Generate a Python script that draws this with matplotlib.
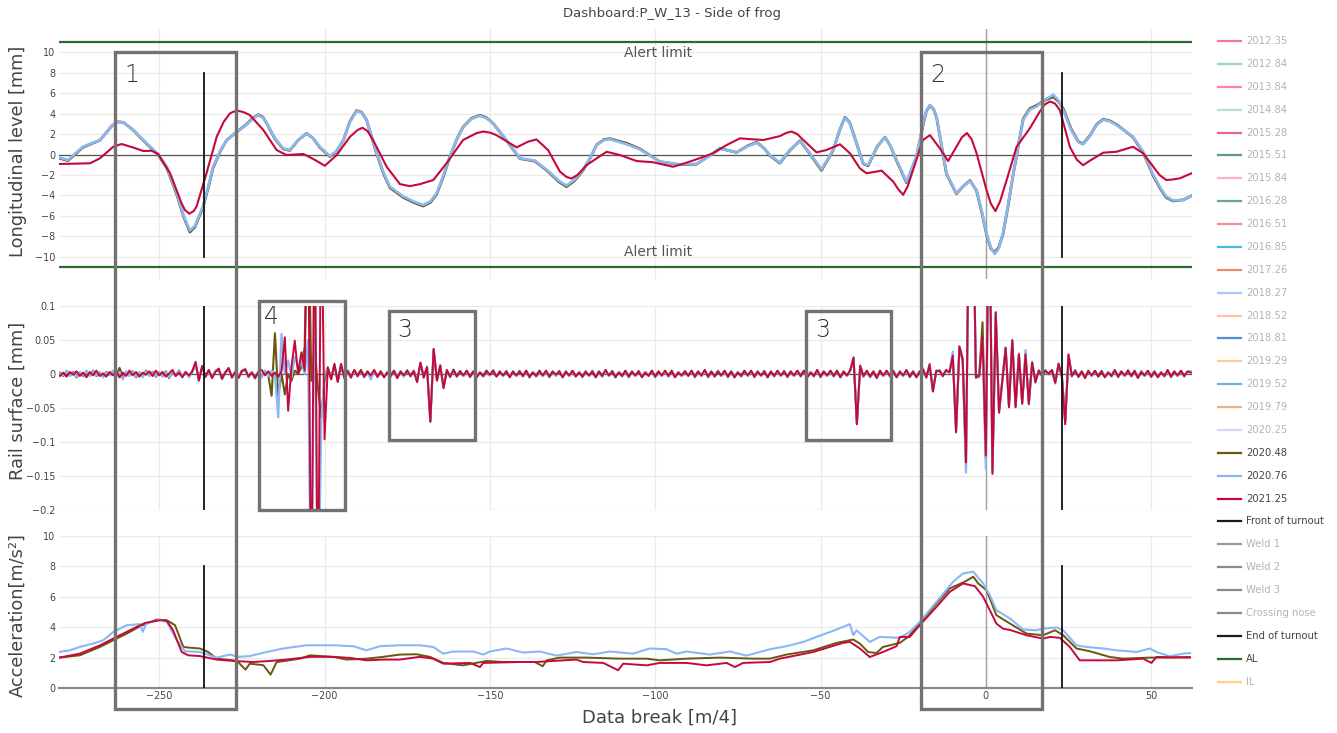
import matplotlib
matplotlib.use("Agg")
import matplotlib.pyplot as plt
from matplotlib.lines import Line2D
from matplotlib.patches import Rectangle
from matplotlib.ticker import FuncFormatter
import numpy as np

W, H = 1337, 733

# ---------------- legend entries ----------------
legend_labels = ["2012.35", "2012.84", "2013.84", "2014.84", "2015.28", "2015.51",
                 "2015.84", "2016.28", "2016.51", "2016.85", "2017.26", "2018.27",
                 "2018.52", "2018.81", "2019.29", "2019.52", "2019.79", "2020.25",
                 "2020.48", "2020.76", "2021.25", "Front of turnout", "Weld 1",
                 "Weld 2", "Weld 3", "Crossing nose", "End of turnout", "AL", "IL"]
legend_colors = ["#ee77b0", "#9ad8b4", "#f887a8", "#b8e0c4", "#e9609e", "#5f9e79",
                 "#ffb0cc", "#6aa88a", "#f49090", "#4db4ee", "#ea8b6c", "#a8c8ff",
                 "#ffc4a0", "#4d8ed4", "#ffcc99", "#6cb4dc", "#e8b488", "#dcd4fa",
                 "#6b560f", "#8ab8f5", "#c5093b", "#1a1a1a", "#9a9a9a",
                 "#8a8a8a", "#8a8a8a", "#8a8a8a", "#1a1a1a", "#2d6a2d", "#ffd08a"]
legend_shown = [False] * 18 + [True, True, True, True, False, False, False, False,
                               True, True, False]

OLIVE, BLUE, RED = "#6b560f", "#8ab8f5", "#c5093b"

# ---------------- longitudinal level (mm) ----------------
lvl_blue = [(-280.3, -0.3), (-277.6, -0.54), (-273.1, 0.76), (-267.9, 1.4), (-264.2, 2.85),
            (-262.5, 3.2), (-260.8, 3.15), (-257.9, 2.4), (-253.8, 1.1), (-250.4, 0.05),
            (-247.7, -1.2), (-244.7, -3.8), (-242.6, -6.0), (-240.7, -7.45), (-239.2, -7.0),
            (-236.8, -5.1), (-235.2, -3.2), (-233.7, -1.2), (-231.5, 0.4), (-229.6, 1.4),
            (-226.6, 2.2), (-223.6, 2.9), (-221.8, 3.5), (-220.0, 3.85), (-218.6, 3.6),
            (-217.5, 3.05), (-215.0, 1.6), (-212.5, 0.6), (-210.5, 0.44), (-208.0, 1.4),
            (-205.4, 2.07), (-203.5, 1.6), (-201.4, 0.76), (-198.4, -0.15), (-196.5, 0.3),
            (-194.3, 1.4), (-192.3, 3.2), (-190.3, 4.26), (-188.8, 4.1), (-187.3, 3.4),
            (-184.2, 0.1), (-182.0, -1.9), (-180.2, -3.15), (-176.2, -4.1), (-173.0, -4.6),
            (-170.2, -4.95), (-168.0, -4.6), (-166.1, -3.8), (-164.0, -2.0), (-162.1, -0.2),
            (-160.0, 1.5), (-158.1, 2.7), (-155.5, 3.5), (-153.0, 3.8), (-151.0, 3.55),
            (-149.0, 3.05), (-144.9, 1.4), (-140.9, -0.37), (-136.4, -0.6), (-132.8, -1.5),
            (-129.0, -2.6), (-126.8, -3.05), (-124.5, -2.5), (-121.8, -1.5), (-119.5, -0.2),
            (-117.7, 0.93), (-115.5, 1.4), (-113.7, 1.5), (-108.6, 1.0), (-104.6, 0.5),
            (-98.6, -0.7), (-92.5, -0.96), (-87.5, -0.93), (-83.5, -0.15), (-80.4, 0.57),
            (-75.4, 0.21), (-72.0, 0.8), (-69.3, 1.16), (-67.0, 0.6), (-65.3, -0.05),
            (-62.3, -0.8), (-59.3, 0.44), (-56.2, 1.32), (-53.2, 0.1), (-49.7, -1.45),
            (-46.2, 0.44), (-44.2, 2.4), (-42.6, 3.6), (-41.2, 3.1), (-40.1, 2.07),
            (-37.1, -0.86), (-35.6, -1.03), (-32.8, 0.8), (-30.5, 1.68), (-28.8, 0.8),
            (-27.0, -0.54), (-24.0, -2.66), (-21.0, -0.2), (-19.0, 2.9), (-18.0, 4.3),
            (-16.9, 4.85), (-15.8, 4.5), (-14.9, 3.7), (-11.9, -1.84), (-8.9, -3.8),
            (-6.8, -3.1), (-4.8, -2.6), (-2.8, -3.5), (-1.2, -5.6), (0.2, -7.7),
            (1.5, -9.1), (2.7, -9.75), (3.9, -9.2), (5.2, -7.7), (6.8, -4.8),
            (8.3, -1.84), (11.3, 3.4), (13.3, 4.4), (15.3, 4.7), (18.0, 5.4),
            (20.4, 5.85), (22.0, 5.3), (23.4, 4.35), (25.8, 2.4), (28.0, 1.2),
            (29.4, 1.0), (31.5, 1.8), (33.5, 2.9), (35.5, 3.4), (37.5, 3.25),
            (39.5, 2.9), (44.5, 1.74), (47.6, 0.27), (50.5, -1.9), (52.6, -3.15),
            (54.5, -4.1), (56.6, -4.5), (59.7, -4.45), (62.2, -4.06)]
lvl_olive = [(-280.3, -0.35), (-277.6, -0.6), (-273.1, 0.7), (-267.9, 1.4), (-264.2, 2.85),
             (-262.5, 3.2), (-260.8, 3.15), (-257.9, 2.4), (-253.8, 1.05), (-250.4, 0.0),
             (-247.7, -1.3), (-244.7, -3.9), (-242.6, -6.1), (-240.7, -7.6), (-239.2, -7.1),
             (-236.8, -5.2), (-235.2, -3.3), (-233.7, -1.3), (-231.5, 0.35), (-229.6, 1.4),
             (-226.6, 2.2), (-223.6, 2.95), (-221.8, 3.55), (-220.0, 3.9), (-218.6, 3.65),
             (-217.5, 3.05), (-215.0, 1.55), (-212.5, 0.55), (-210.5, 0.4), (-208.0, 1.4),
             (-205.4, 2.07), (-203.5, 1.6), (-201.4, 0.7), (-198.4, -0.2), (-196.5, 0.25),
             (-194.3, 1.4), (-192.3, 3.25), (-190.3, 4.3), (-188.8, 4.15), (-187.3, 3.4),
             (-184.2, 0.05), (-182.0, -2.0), (-180.2, -3.25), (-176.2, -4.2), (-173.0, -4.7),
             (-170.2, -5.05), (-168.0, -4.7), (-166.1, -3.9), (-164.0, -2.1), (-162.1, -0.25),
             (-160.0, 1.5), (-158.1, 2.7), (-155.5, 3.55), (-153.0, 3.85), (-151.0, 3.6),
             (-149.0, 3.05), (-144.9, 1.35), (-140.9, -0.4), (-136.4, -0.65), (-132.8, -1.55),
             (-129.0, -2.7), (-126.8, -3.15), (-124.5, -2.6), (-121.8, -1.55), (-119.5, -0.25),
             (-117.7, 0.95), (-115.5, 1.45), (-113.7, 1.55), (-108.6, 1.1), (-104.6, 0.55),
             (-98.6, -0.7), (-92.5, -1.0), (-87.5, -0.95), (-83.5, -0.1), (-80.4, 0.6),
             (-75.4, 0.2), (-72.0, 0.85), (-69.3, 1.2), (-67.0, 0.6), (-65.3, -0.1),
             (-62.3, -0.85), (-59.3, 0.4), (-56.2, 1.35), (-53.2, 0.05), (-49.7, -1.55),
             (-46.2, 0.4), (-44.2, 2.4), (-42.6, 3.65), (-41.2, 3.15), (-40.1, 2.1),
             (-37.1, -0.9), (-35.6, -1.1), (-32.8, 0.8), (-30.5, 1.7), (-28.8, 0.8),
             (-27.0, -0.6), (-24.0, -2.75), (-21.0, -0.25), (-19.0, 2.85), (-18.0, 4.25),
             (-16.9, 4.8), (-15.8, 4.45), (-14.9, 3.65), (-11.9, -1.9), (-8.9, -3.85),
             (-6.8, -3.1), (-4.8, -2.55), (-2.8, -3.55), (-1.2, -5.7), (0.2, -7.8),
             (1.5, -9.2), (2.7, -9.6), (3.9, -9.1), (5.2, -7.8), (6.8, -4.9),
             (8.3, -1.9), (11.3, 3.5), (13.3, 4.5), (15.3, 4.8), (18.0, 5.35),
             (20.4, 5.65), (22.0, 5.2), (23.4, 4.5), (25.8, 2.5), (28.0, 1.25),
             (29.4, 1.05), (31.5, 1.85), (33.5, 2.95), (35.5, 3.45), (37.5, 3.3),
             (39.5, 2.95), (44.5, 1.7), (47.6, 0.2), (50.5, -2.0), (52.6, -3.25),
             (54.5, -4.2), (56.6, -4.55), (59.7, -4.45), (62.2, -4.05)]
lvl_red = [(-280.3, -0.93), (-270.9, -0.86), (-267.9, -0.37), (-263.9, 0.76), (-261.4, 1.03),
           (-258.0, 0.7), (-254.8, 0.34), (-252.3, 0.37), (-250.3, 0.05), (-246.7, -1.84),
           (-243.2, -4.8), (-242.2, -5.45), (-240.9, -5.8), (-239.6, -5.55), (-238.7, -5.1),
           (-235.7, -1.84), (-232.6, 1.74), (-230.5, 3.2), (-228.6, 4.03), (-227.5, 4.2),
           (-226.1, 4.28), (-224.5, 4.15), (-222.6, 3.87), (-218.5, 2.4), (-214.5, 0.44),
           (-211.5, -0.05), (-209.0, 0.0), (-206.4, 0.05), (-203.4, -0.44), (-199.9, -1.1),
           (-196.3, -0.05), (-192.3, 1.74), (-190.0, 2.4), (-188.5, 2.62), (-187.0, 2.3),
           (-185.3, 1.4), (-181.2, -1.2), (-177.2, -2.9), (-174.2, -3.1), (-171.1, -2.9),
           (-167.1, -2.5), (-163.1, -0.86), (-158.1, 1.42), (-154.0, 2.1), (-152.0, 2.25),
           (-150.0, 2.15), (-148.0, 1.9), (-141.9, 0.7), (-138.5, 1.25), (-135.9, 1.48),
           (-132.4, 0.44), (-128.8, -1.68), (-126.8, -2.2), (-125.3, -2.35), (-123.5, -2.0),
           (-120.7, -1.03), (-114.7, 0.27), (-110.7, -0.05), (-105.6, -0.64), (-100.6, -0.76),
           (-94.6, -1.2), (-90.5, -0.8), (-87.5, -0.47), (-82.5, 0.12), (-78.4, 0.93),
           (-74.4, 1.58), (-67.3, 1.42), (-62.3, 1.8), (-60.5, 2.1), (-58.8, 2.25),
           (-57.0, 2.0), (-55.2, 1.42), (-51.2, 0.21), (-48.2, 0.44), (-44.1, 1.0),
           (-41.1, 0.12), (-38.1, -1.35), (-36.1, -1.84), (-31.5, -1.58), (-28.0, -2.66),
           (-26.5, -3.4), (-25.0, -3.95), (-23.6, -3.1), (-22.0, -1.5), (-19.0, 1.42),
           (-16.9, 1.9), (-13.9, 0.6), (-11.4, -0.64), (-8.9, 0.76), (-7.2, 1.7),
           (-5.7, 2.1), (-4.3, 1.5), (-2.8, 0.12), (0.2, -3.47), (1.5, -4.8),
           (2.9, -5.55), (4.3, -4.6), (6.3, -2.5), (9.3, 0.76), (13.3, 2.56),
           (16.3, 4.2), (17.8, 4.9), (19.4, 5.2), (20.9, 5.0), (22.4, 4.35),
           (25.4, 0.76), (27.5, -0.5), (29.4, -1.05), (31.5, -0.6), (35.5, 0.18),
           (39.5, 0.27), (44.5, 0.76), (47.6, 0.12), (52.5, -2.0), (54.6, -2.5),
           (56.5, -2.45), (58.7, -2.33), (62.2, -1.84)]

# ---------------- rail surface (1/1000 mm, one value per step from -280) ----------------
rail_start = -280
rail_olive = [2, -3, 4, -2, 3, -5, 2, -3, 4, -2, 5, -3, 2, -4, 3, -1, 4, -3, 9, -4,
              3, -2, 4, -5, 2, -3, 5, -2, 3, -4, 2, -3, 4, -6, 3, -2, 5, -3, 2, -4,
              3, 15, -8, 10, -3, 5, -5, 4, 6, -6, 3, 7, -4, 2, -5, 5, 6, -3, 3, -5,
              2, -3, 4, -2, -32, 60, -32, 0, -30, 0, -10, 5, 0, 10, 40, 300, -10, 40, -20, -64,
              -10, 8, -6, 12, -10, 12, -5, 5, -4, 5, -2, 6, -3, 4, -3, 5, -3, 4, -4, 3,
              -2, 5, -5, 4, -3, 4, -2, 5, -10, 15, -4, 9, -70, 35, -8, 11, -19, 6, -3, 5,
              -4, 3, -3, 4, -3, 4, -4, 3, -2, 5, -2, 4, -3, 4, -3, 3, -4, 4, -3, 3,
              -2, 4, -5, 3, -2, 5, -3, 4, -3, 4, -2, 3, -4, 4, -3, 4, -4, 3, -3, 4,
              -3, 3, -4, 4, -2, 5, -3, 3, -5, 3, -2, 4, -3, 4, -3, 3, -4, 3, -2, 4,
              -3, 4, -3, 4, -2, 5, -4, 3, -3, 3, -2, 4, -3, 4, -3, 5, -3, 4, -4, 3,
              -3, 4, -3, 4, -4, 3, -2, 5, -3, 4, -3, 4, -3, 3, -4, 4, -2, 4, -3, 3,
              -3, 4, -3, 4, -2, 5, -4, 3, -2, 5, -3, 4, -3, 4, -2, 5, -4, 4, -3, 5,
              22, -72, 11, -4, 4, -3, 4, -5, 5, -3, 4, -2, 5, -4, 4, -3, 5, -3, 4, -4,
              4, 6, -4, 12, -24, 5, 4, -2, 5, 3, 25, -84, 38, 20, -135, 300, 300, -3, -2, 76,
              -125, 300, -140, 88, -55, -8, 37, -47, 48, -47, 28, -42, 27, -42, 16, -10, 4, -2, 4, 1,
              5, -12, 14, -3, -70, 27, -2, 4, -3, 4, -5, 5, -3, 4, -4, 3, -4, 3, -2, 5,
              -3, 4, -3, 4, -2, 5, -5, 4, -3, 4, -3, 4, -4, 3, -2, 5, -3, 4, -3, 4,
              -2, 3, 3]
rail_blue = [1, -2, 5, -3, 2, -4, 3, -2, 5, -3, 4, -2, 3, -5, 2, -2, 5, -4, 3, -8,
             4, -3, 3, -4, 3, -5, 4, -3, 2, -3, 3, -4, 3, -5, 4, -3, 4, -2, 3, -5,
             5, 14, -9, 11, -5, 4, -4, 5, 7, -8, 2, 8, -6, 4, -4, 3, 8, -5, 3, -7,
             4, -5, 5, -3, 5, 0, -64, 59, 0, 20, -5, 25, 10, 20, 0, 50, -400, 200, -400, -73,
             0, 9, -7, 14, -11, 14, -7, 3, -6, 5, -4, 4, -5, 2, -8, 5, -5, 2, -4, 3,
             -4, 3, -5, 2, -4, 6, -4, 5, -11, 16, -6, 11, -68, 36, -9, 12, -20, 4, -5, 7,
             -2, 5, -3, 4, -5, 2, -4, 3, -4, 3, -2, 6, -3, 2, -3, 5, -4, 2, -3, 5,
             -4, 4, -3, 3, -4, 3, -3, 4, -5, 2, -3, 5, -4, 2, -3, 4, -2, 3, -5, 2,
             -3, 5, -4, 2, -4, 5, -3, 5, -3, 3, -4, 4, -5, 2, -3, 5, -4, 3, -2, 4,
             -5, 2, -3, 4, -4, 3, -4, 3, -3, 5, -2, 4, -5, 2, -3, 5, -5, 2, -2, 5,
             -3, 4, -5, 2, -4, 3, -4, 3, -3, 4, -5, 2, -3, 5, -4, 2, -4, 4, -3, 5,
             -5, 2, -3, 4, -4, 3, -4, 3, -4, 5, -5, 2, -3, 4, -4, 3, -4, 2, -3, 5,
             25, -73, 13, -4, 4, -5, 2, -5, 3, -3, 4, -4, 3, -4, 2, -3, 5, -5, 2, -4,
             2, 8, -6, 15, -25, 3, 6, -4, 5, 3, 33, -85, 40, 23, -145, 300, 300, -6, -4, 50,
             -140, 300, -145, 90, -56, -9, 38, -48, 49, -48, 30, -43, 35, -45, 18, -13, 6, -4, 6, -1,
             5, -14, 16, -5, -72, 28, -4, 6, -5, 2, -5, 3, -3, 4, -2, 5, -4, 3, -4, 5,
             -5, 2, -3, 6, -4, 3, -5, 4, -3, 4, -5, 2, -4, 3, -4, 5, -5, 2, -3, 4,
             -4, 3, 4]
rail_red = [-3, 2, -4, 3, -1, 4, -3, 2, -5, 3, -2, 5, -3, 1, -4, 3, -2, 4, -5, 2,
            -3, 5, -2, 3, -4, 2, -1, 4, -3, 5, -2, 3, -4, 1, 6, -3, 2, -5, 3, -2,
            4, 18, -10, 12, -4, 6, -6, 3, 8, -7, 2, 9, -5, 3, -6, 4, 7, -4, 2, -6,
            3, 6, -2, 4, -3, 2, -4, 4, 54, -54, 10, 49, 0, 32, 5, 300, -400, 300, -400, 300,
            -96, 10, -8, 15, -12, 15, -6, 4, -5, 6, -3, 5, -4, 3, -2, 6, -4, 3, -5, 2,
            -3, 4, -6, 3, -2, 5, -3, 4, -12, 17, -5, 10, -70, 37, -10, 13, -21, 5, -4, 6,
            -3, 4, -2, 5, -4, 3, -5, 2, -3, 4, -1, 5, -4, 3, -2, 4, -5, 3, -2, 4,
            -3, 5, -4, 2, -3, 4, -2, 5, -4, 3, -1, 4, -5, 3, -2, 5, -3, 2, -4, 3,
            -2, 4, -5, 3, -3, 6, -2, 4, -4, 2, -3, 5, -4, 3, -2, 4, -5, 2, -3, 5,
            -4, 3, -2, 5, -3, 4, -5, 2, -2, 4, -3, 5, -4, 3, -2, 6, -4, 3, -3, 4,
            -2, 5, -4, 3, -5, 2, -3, 4, -2, 5, -4, 3, -2, 4, -5, 3, -3, 5, -2, 4,
            -4, 3, -2, 5, -3, 4, -5, 2, -3, 6, -4, 3, -2, 5, -3, 4, -5, 3, -2, 6,
            24, -74, 12, -3, 5, -4, 3, -6, 4, -2, 5, -3, 4, -5, 3, -2, 6, -4, 3, -5,
            3, 7, -5, 14, -26, 4, 5, -3, 6, 2, 27, -86, 41, 22, -130, 300, 300, -5, -3, 54,
            -120, 300, -147, 91, -57, -10, 39, -49, 50, -49, 29, -44, 29, -44, 17, -12, 5, -3, 5, 0,
            6, -13, 15, -4, -74, 29, -3, 5, -4, 3, -6, 4, -2, 5, -3, 4, -5, 2, -3, 6,
            -4, 3, -2, 5, -3, 4, -6, 3, -2, 5, -4, 3, -5, 2, -3, 6, -4, 3, -2, 5,
            -3, 4, 2]

# ---------------- acceleration (m/s^2) ----------------
acc_olive = [(-280.2, 2.0), (-274.0, 2.15), (-267.9, 2.7), (-263.9, 3.14), (-259.8, 3.58),
             (-255.8, 4.06), (-250.8, 4.5), (-247.7, 4.46), (-245.2, 4.13), (-242.7, 2.7),
             (-240.7, 2.65), (-237.7, 2.6), (-235.2, 2.37), (-232.6, 1.93), (-227.6, 1.82),
             (-226.1, 1.7), (-223.9, 1.21), (-222.6, 1.6), (-218.5, 1.5), (-216.3, 0.88),
             (-214.5, 1.7), (-207.4, 1.93), (-204.4, 2.15), (-197.4, 2.05), (-193.3, 1.87),
             (-187.3, 1.93), (-182.2, 2.05), (-177.2, 2.2), (-172.2, 2.22), (-168.1, 2.05),
             (-164.1, 1.65), (-158.1, 1.49), (-151.0, 1.78), (-146.0, 1.71), (-136.4, 1.71),
             (-134.0, 1.43), (-132.8, 1.82), (-128.8, 2.0), (-120.7, 2.0), (-110.7, 1.93),
             (-102.6, 1.93), (-98.6, 1.82), (-90.5, 1.93), (-80.4, 2.0), (-70.4, 1.93),
             (-65.3, 1.93), (-60.3, 2.2), (-52.2, 2.48), (-45.1, 2.97), (-40.1, 3.19),
             (-38.1, 2.92), (-35.6, 2.37), (-33.1, 2.3), (-31.1, 2.7), (-26.0, 2.97),
             (-23.5, 3.36), (-20.0, 4.24), (-14.9, 5.56), (-10.9, 6.55), (-6.4, 6.99),
             (-3.8, 7.32), (-2.3, 6.88), (0.2, 6.44), (3.2, 4.79), (7.3, 4.24),
             (12.3, 3.58), (17.3, 3.47), (20.9, 3.8), (23.4, 3.47), (27.4, 2.6),
             (31.4, 2.42), (37.5, 2.04), (41.5, 1.93), (49.6, 2.0), (55.6, 2.0), (61.7, 2.04)]
acc_blue = [(-280.2, 2.37), (-277.0, 2.48), (-274.0, 2.7), (-269.9, 2.93), (-266.9, 3.14),
            (-263.9, 3.69), (-259.8, 4.13), (-255.8, 4.2), (-255.0, 3.69), (-253.8, 4.26),
            (-249.8, 4.5), (-247.7, 4.35), (-244.7, 3.14), (-242.2, 2.42), (-237.7, 2.37),
            (-234.7, 2.15), (-232.6, 2.0), (-228.6, 2.2), (-226.1, 2.05), (-222.6, 2.1),
            (-217.5, 2.37), (-212.5, 2.6), (-205.4, 2.81), (-197.4, 2.81), (-191.3, 2.75),
            (-187.3, 2.48), (-183.2, 2.75), (-177.2, 2.81), (-171.2, 2.81), (-167.1, 2.7),
            (-164.1, 2.26), (-161.1, 2.4), (-155.0, 2.4), (-152.0, 2.2), (-150.0, 2.4),
            (-144.9, 2.6), (-139.9, 2.33), (-134.9, 2.4), (-129.8, 2.13), (-123.8, 2.37),
            (-118.7, 2.22), (-113.7, 2.4), (-106.7, 2.26), (-101.6, 2.6), (-96.6, 2.55),
            (-93.5, 2.26), (-90.5, 2.4), (-83.5, 2.2), (-77.4, 2.4), (-72.4, 2.13),
            (-65.3, 2.55), (-60.3, 2.75), (-55.2, 3.03), (-51.2, 3.36), (-46.2, 3.76),
            (-41.1, 4.2), (-40.1, 3.47), (-39.1, 3.8), (-35.1, 3.03), (-32.1, 3.36),
            (-26.0, 3.3), (-23.0, 3.69), (-20.0, 4.35), (-14.9, 5.67), (-9.9, 6.99),
            (-6.9, 7.54), (-3.8, 7.65), (-0.8, 6.88), (1.2, 6.11), (3.2, 5.12),
            (7.3, 4.57), (11.3, 3.85), (15.3, 3.8), (17.3, 3.91), (21.4, 3.98),
            (23.4, 3.8), (27.4, 2.81), (30.4, 2.7), (35.5, 2.6), (39.5, 2.48),
            (45.6, 2.37), (49.6, 2.6), (51.6, 2.37), (55.6, 2.09), (59.7, 2.26), (61.7, 2.3)]
acc_red = [(-280.2, 2.0), (-274.0, 2.26), (-267.9, 2.81), (-262.9, 3.36), (-257.8, 3.91),
           (-254.3, 4.28), (-249.8, 4.46), (-247.7, 4.42), (-245.8, 3.8), (-243.2, 2.37),
           (-241.2, 2.15), (-237.7, 2.1), (-232.6, 1.87), (-227.6, 1.78), (-221.6, 1.71),
           (-216.5, 1.78), (-211.5, 1.87), (-204.4, 2.05), (-197.4, 2.05), (-192.3, 1.98),
           (-187.3, 1.82), (-182.2, 1.87), (-177.2, 1.87), (-171.2, 2.05), (-167.1, 1.93),
           (-164.1, 1.6), (-156.0, 1.65), (-153.0, 1.38), (-152.0, 1.65), (-140.9, 1.71),
           (-135.9, 1.71), (-130.8, 1.78), (-123.8, 1.87), (-121.8, 1.71), (-115.7, 1.65),
           (-111.2, 1.17), (-109.7, 1.6), (-102.6, 1.49), (-98.6, 1.65), (-90.5, 1.65),
           (-84.5, 1.49), (-78.4, 1.65), (-75.9, 1.38), (-73.4, 1.65), (-65.3, 1.71),
           (-62.3, 1.93), (-57.2, 2.15), (-52.2, 2.37), (-47.2, 2.7), (-43.2, 2.97),
           (-41.1, 3.03), (-38.1, 2.6), (-35.1, 2.04), (-31.1, 2.37), (-27.0, 2.75),
           (-26.0, 3.36), (-23.0, 3.36), (-20.0, 4.13), (-14.9, 5.34), (-10.9, 6.33),
           (-6.9, 6.88), (-3.3, 6.7), (-0.8, 6.0), (3.2, 4.24), (5.2, 3.9),
           (7.3, 3.82), (12.3, 3.47), (17.3, 3.25), (19.4, 3.36), (22.4, 3.3),
           (25.4, 2.7), (28.4, 1.82), (33.5, 1.82), (39.5, 1.82), (47.6, 1.93),
           (50.1, 1.65), (51.6, 2.04), (61.7, 2.0)]

# turnout markers and alert limit
front_x, end_x = -236.5, 23.0
alert_limit = 11

# highlighted regions (pixel boxes on the dashboard) and their labels
boxes = [(115, 52, 236, 709), (921, 52, 1041.5, 709), (259, 300.5, 344.5, 509.5),
         (389.5, 311, 475, 439.5), (806, 311, 891, 439.5)]
box_labels = [("1", 132, 75), ("2", 938, 75), ("4", 271, 317), ("3", 405, 330),
              ("3", 823, 330)]


def fx(px):
    return px / W


def fy(py):
    return 1 - py / H


def unzip(pairs):
    arr = np.array(pairs)
    return arr[:, 0], arr[:, 1]


def minus_fmt(v, pos):
    return f"{v:g}".replace("-", "\u2212")


fig = plt.figure(figsize=(W / 100, H / 100), dpi=100)
fig.patch.set_facecolor("white")

left, right = 59, 1191.5
ax_top = fig.add_axes([fx(left), fy(279), (right - left) / W, (279 - 29) / H])
ax_mid = fig.add_axes([fx(left), fy(510), (right - left) / W, (510 - 306) / H])
ax_bot = fig.add_axes([fx(left), fy(688), (right - left) / W, (688 - 536) / H])

for ax in (ax_top, ax_mid, ax_bot):
    for s in ax.spines.values():
        s.set_visible(False)
    ax.set_xlim(-280.3, 62.2)
    ax.set_xticks([-250, -200, -150, -100, -50, 0, 50])
    ax.tick_params(length=0, labelsize=6.9, labelcolor="#444444", pad=2.5)
    ax.grid(True, color="#ebebeb", lw=1)
    ax.set_axisbelow(True)
    ax.axvline(0, color="#a0a0a0", lw=1, zorder=1.5)
    ax.xaxis.set_major_formatter(FuncFormatter(minus_fmt))
    ax.yaxis.set_major_formatter(FuncFormatter(minus_fmt))

ax_top.tick_params(labelbottom=False)
ax_mid.tick_params(labelbottom=False)

# top panel
ax_top.set_ylim(-12.2, 12.3)
ax_top.set_yticks(np.arange(-10, 11, 2))
ax_top.axhline(0, color="#555555", lw=0.9, zorder=1.6)
for data, col, lw in ((lvl_olive, OLIVE, 2.0), (lvl_blue, BLUE, 1.9), (lvl_red, RED, 1.5)):
    x, y = unzip(data)
    ax_top.plot(x, y, color=col, lw=lw, zorder=3, solid_joinstyle="round")
ax_top.axhline(alert_limit, color="#2d6a2d", lw=1.6, zorder=4)
ax_top.axhline(-alert_limit, color="#2d6a2d", lw=1.6, zorder=4)
ax_top.text(-99, 9.9, "Alert limit", ha="center", va="center", fontsize=10, color="#555555")
ax_top.text(-99, -9.55, "Alert limit", ha="center", va="center", fontsize=10, color="#555555")
for xm in (front_x, end_x):
    ax_top.plot([xm, xm], [-10, 8], color="#111111", lw=1.3, zorder=5)

# middle panel
ax_mid.set_ylim(-0.2, 0.1)
ax_mid.set_yticks([-0.2, -0.15, -0.1, -0.05, 0, 0.05, 0.1])
ax_mid.axhline(0, color="#555555", lw=0.9, zorder=1.6)
for vals, col, lw in ((rail_olive, OLIVE, 1.5), (rail_blue, BLUE, 1.6), (rail_red, RED, 1.4)):
    x = np.arange(rail_start, rail_start + len(vals))
    ax_mid.plot(x, np.array(vals) / 1000.0, color=col, lw=lw, zorder=3)
for xm in (front_x, end_x):
    ax_mid.plot([xm, xm], [-0.2, 0.1], color="#111111", lw=1.3, zorder=5)

# bottom panel
ax_bot.set_ylim(0, 10)
ax_bot.set_yticks([0, 2, 4, 6, 8, 10])
ax_bot.axhline(0, color="#8a8a8a", lw=1.6, zorder=1.6, clip_on=False)
for data, col, lw in ((acc_olive, OLIVE, 1.4), (acc_blue, BLUE, 1.5), (acc_red, RED, 1.4)):
    x, y = unzip(data)
    ax_bot.plot(x, y, color=col, lw=lw, zorder=3)
for xm in (front_x, end_x):
    ax_bot.plot([xm, xm], [0, 8], color="#111111", lw=1.3, zorder=5)

# titles and axis labels
fig.text(fx(672), fy(14), "Dashboard:P_W_13 - Side of frog", ha="center", va="center",
         fontsize=9.5, color="#444444")
fig.text(fx(18), fy(151), "Longitudinal level [mm]", rotation=90, ha="center",
         va="center", fontsize=12.8, color="#444444")
fig.text(fx(18), fy(401), "Rail surface [mm]", rotation=90, ha="center", va="center",
         fontsize=12.8, color="#444444")
fig.text(fx(18), fy(615), "Acceleration[m/s\u00b2]", rotation=90, ha="center",
         va="center", fontsize=12.8, color="#444444")
fig.text(fx(660), fy(718), "Data break [m/4]", ha="center", va="center", fontsize=13,
         color="#444444")

# highlighted regions
for x0, y0, x1, y1 in boxes:
    fig.add_artist(Rectangle((fx(x0), fy(y1)), (x1 - x0) / W, (y1 - y0) / H,
                             transform=fig.transFigure, fill=False, ec="#767171",
                             lw=2.4, zorder=10))
for txt, px, py in box_labels:
    fig.text(fx(px), fy(py), txt, ha="center", va="center", fontsize=17,
             color="#333333", fontweight="light", zorder=11)

# legend
leg_y0, leg_dy = 41, 22.88
for i, (lab, col, shown) in enumerate(zip(legend_labels, legend_colors, legend_shown)):
    yy = fy(leg_y0 + i * leg_dy)
    fig.add_artist(Line2D([fx(1218), fx(1241)], [yy, yy], transform=fig.transFigure,
                          color=col, lw=1.6))
    fig.text(fx(1246), yy, lab, ha="left", va="center", fontsize=7.2,
             color="#444444" if shown else "#b4b4b4")

fig.savefig("out.png", dpi=100)
